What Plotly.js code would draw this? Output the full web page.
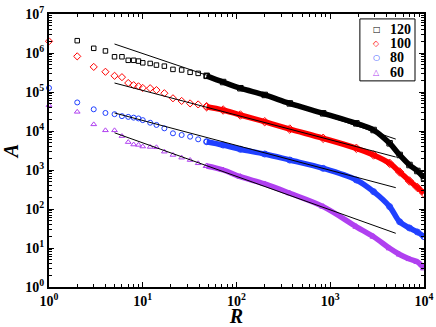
<!DOCTYPE html>
<html>
<head>
<meta charset="utf-8">
<script src="https://cdn.plot.ly/plotly-3.0.1.min.js"></script>
<style>
  html, body { margin: 0; padding: 0; background: #fff; }
  #chart { width: 436px; height: 327px; }
</style>
</head>
<body>
<div id="chart"></div>
<script>
// R values (x) shared by all series
const R = [1, 2, 3, 4, 5, 6, 7, 8, 9, 10, 12, 14, 17, 21, 26, 32, 39, 48,
  72, 110, 200, 370, 840, 1900, 2900, 4300, 5500, 7000, 8500, 10000];

const A120 = [null, 2.07e6, 1.32e6, 1.13e6, 8.0e5, 8.0e5, 6.5e5, 6.5e5, 6.2e5, 5.6e5,
  5.4e5, 4.9e5, 4.6e5, 3.8e5, 3.67e5, 3.2e5, 3.0e5, 2.6e5,
  1.8e5, 1.25e5, 8.4e4, 5.1e4, 2.84e4, 1.57e4, 1.06e4, 4840, 2430, 1343, 943, 624];
const A100 = [2.0e6, 8.2e5, 4.4e5, 3.3e5, 2.6e5, 2.4e5, 1.7e5, 1.5e5, 1.4e5, 1.27e5,
  1.25e5, 1.12e5, 9.3e4, 6.9e4, 5.9e4, 5.1e4, 4.8e4, 4.2e4,
  3.45e4, 2.57e4, 1.73e4, 1.12e4, 6500, 3600, 2430, 1485, 889, 522, 356, 253];
const A80 = [1.27e5, 5.4e4, 3.6e4, 2.9e4, 2.7e4, 2.4e4, 2.3e4, 2.2e4, 2.1e4, 1.9e4,
  1.63e4, 1.43e4, 1.17e4, 8730, 7900, 7150, 6120, 5320,
  4370, 3400, 2570, 1800, 1106, 554, 278, 115, 47, 32.6, 25.7, 19.5];
const A60 = [4.6e4, 3.1e4, 1.48e4, 1.04e4, 1.04e4, 7400, 5200, 4500, 4400, 4000,
  3900, 3820, 2950, 2430, 2070, 1800, 1485, 1267,
  1000, 674, 438, 253, 115, 35, 19.5, 9.8, 6.8, 5.2, 4.4, 3.0];

// power-law fits
const fitR = [5, 5000];
const fit120 = [1.7e6, 6.2e3];
const fit100 = [1.7e5, 2.15e3];
const fit80 = [2.9e4, 352];
const fit60 = [9.0e3, 23.8];

const xTickVals = [1, 10, 100, 1000, 10000];
const xTickText = ["10<sup>0</sup>", "10<sup>1</sup>", "10<sup>2</sup>", "10<sup>3</sup>", "10<sup>4</sup>"];
const yTickVals = [1, 10, 100, 1e3, 1e4, 1e5, 1e6, 1e7];
const yTickText = ["10<sup>0</sup>", "10<sup>1</sup>", "10<sup>2</sup>", "10<sup>3</sup>",
  "10<sup>4</sup>", "10<sup>5</sup>", "10<sup>6</sup>", "10<sup>7</sup>"];

const series = [
  { name: "120", y: A120, fit: fit120, color: "#000000", symbol: "square-open", size: 4.5, glyph: "\u25A1" },
  { name: "100", y: A100, fit: fit100, color: "#ff0000", symbol: "diamond-open", size: 5.5, glyph: "\u25C7" },
  { name: "80", y: A80, fit: fit80, color: "#2040ff", symbol: "circle-open", size: 5, glyph: "\u25CB" },
  { name: "60", y: A60, fit: fit60, color: "#b040f0", symbol: "triangle-up-open", size: 5, glyph: "\u25B3" },
];

const SPLIT = R.indexOf(48);
const traces = [];

series.forEach((s) => {
  // sparse part: separate open markers
  traces.push({
    type: "scatter", mode: "markers", name: s.name, showlegend: false, cliponaxis: false,
    x: R.slice(0, SPLIT + 1), y: s.y.slice(0, SPLIT + 1),
    marker: { symbol: s.symbol, size: s.size, color: s.color, line: { width: 1, color: s.color } },
  });
  // dense part: markers packed into a band
  traces.push({
    type: "scatter", mode: "lines+markers", showlegend: false,
    x: R.slice(SPLIT), y: s.y.slice(SPLIT),
    line: { color: s.color, width: 5.5, shape: "spline" },
    marker: { symbol: s.symbol, size: s.size + 1, color: s.color, line: { width: 1, color: s.color } },
  });
});

series.forEach((s) => {
  traces.push({
    type: "scatter", mode: "lines", showlegend: false,
    x: fitR, y: s.fit,
    line: { color: "#000", width: 1 },
  });
});

const minorVals = (lo, hi) => {
  const v = [];
  for (let d = lo; d < hi; d++) {
    for (let k = 2; k <= 9; k++) v.push(k * Math.pow(10, d));
  }
  return v;
};

const serif = "Liberation Serif, Times New Roman, serif";

const axisBase = {
  type: "log",
  tickmode: "array",
  ticks: "inside",
  ticklen: 5,
  tickwidth: 1,
  tickcolor: "#000",
  showline: true,
  linecolor: "#000",
  linewidth: 2,
  mirror: "ticks",
  showgrid: false,
  zeroline: false,
  tickfont: { family: serif, size: 14, color: "#000", weight: "bold" },
};

// hand-made legend box (Plotly's own legend rows are too tall here)
const legBox = { x0: 0.829, x1: 0.976, y0: 0.755, y1: 0.982 };
const legTop = 0.945, legStep = 0.053;
const annotations = [];
series.forEach((s, i) => {
  const yy = legTop - i * legStep;
  annotations.push({
    xref: "paper", yref: "paper", x: 0.874, y: yy, xanchor: "center", yanchor: "middle",
    text: s.glyph, showarrow: false,
    font: { family: "DejaVu Sans", size: 8, color: s.color },
  });
  annotations.push({
    xref: "paper", yref: "paper", x: 0.905, y: yy, xanchor: "left", yanchor: "middle",
    text: s.name, showarrow: false,
    font: { family: serif, size: 14, color: "#000", weight: "bold" },
  });
});

const layout = {
  width: 436,
  height: 327,
  margin: { l: 49, r: 12, t: 14, b: 40 },
  paper_bgcolor: "#fff",
  plot_bgcolor: "#fff",
  showlegend: false,
  xaxis: Object.assign({}, axisBase, {
    range: [0, 4],
    tickvals: xTickVals,
    ticktext: xTickText,
    minor: { tickmode: "array", tickvals: minorVals(0, 4), ticks: "inside", ticklen: 3, tickcolor: "#000" },
    title: { text: "R", font: { family: serif, size: 20, color: "#000", weight: "bold", style: "italic" }, standoff: 7 },
  }),
  yaxis: Object.assign({}, axisBase, {
    range: [0, 7],
    tickvals: yTickVals,
    ticktext: yTickText,
    minor: { tickmode: "array", tickvals: minorVals(0, 7), ticks: "inside", ticklen: 3, tickcolor: "#000" },
    title: { text: "A", font: { family: serif, size: 20, color: "#000", weight: "bold", style: "italic" }, standoff: 4 },
  }),
  shapes: [{
    type: "rect", xref: "paper", yref: "paper",
    x0: legBox.x0, x1: legBox.x1, y0: legBox.y0, y1: legBox.y1,
    line: { color: "#000", width: 1 }, fillcolor: "#fff", layer: "above",
  }],
  annotations: annotations,
};

Plotly.newPlot("chart", traces, layout, { displayModeBar: false, staticPlot: true });
</script>
</body>
</html>
